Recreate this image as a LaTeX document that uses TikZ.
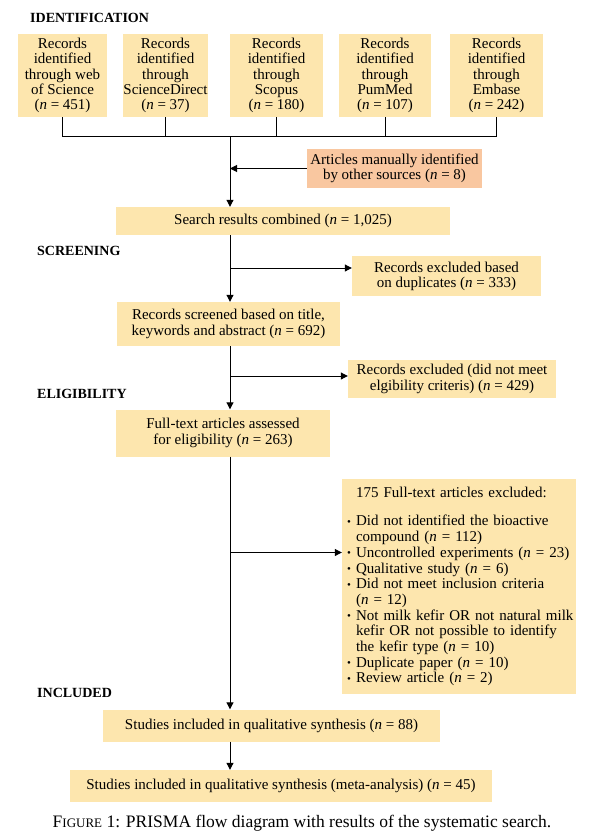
\documentclass[tikz,border=0pt]{standalone}
\usepackage{fontspec}
\setmainfont{Liberation Serif}
\usetikzlibrary{arrows.meta}
\definecolor{boxy}{HTML}{FDE6AE}
\definecolor{boxo}{HTML}{F9C7A0}
\tikzset{
  every node/.style={font=\fontsize{15}{15.2}\selectfont, inner sep=0pt},
  ybox/.style={fill=boxy, draw=none, align=center},
  obox/.style={fill=boxo, draw=none, align=center},
  lbl/.style={font=\bfseries\fontsize{14}{15}\selectfont, anchor=west},
  conn/.style={line width=1pt},
  arr/.style={line width=1pt, -{Triangle[length=7pt,width=7pt]}}
}
\newcommand{\bul}{\hspace*{5pt}\makebox[9pt][l]{\raisebox{0.5pt}{\fontsize{11}{11}\selectfont\textbullet}}}
\newcommand{\ind}{\hspace*{14pt}}
\begin{document}
\begin{tikzpicture}[x=1pt,y=-1pt]
\useasboundingbox (0,0) rectangle (600,840);
\fill[white] (0,0) rectangle (600,840);

\node[lbl] (hid) at (30,18) {IDENTIFICATION};
\node[lbl] (hsc) at (37,251) {SCREENING};
\node[lbl] (hel) at (37,394) {ELIGIBILITY};
\node[lbl] (hin) at (37,693) {INCLUDED};

\node[ybox, minimum width=89, minimum height=83] (s1) at (62.5,75.5) {Records\\identified\\through web\\of Science\\(\textit{n} = 451)};
\node[ybox, minimum width=85, minimum height=83] (s2) at (165.5,75.5) {Records\\identified\\through\\ScienceDirect\\(\textit{n} = 37)};
\node[ybox, minimum width=93, minimum height=83] (s3) at (276.5,75.5) {Records\\identified\\through\\Scopus\\(\textit{n} = 180)};
\node[ybox, minimum width=92, minimum height=83] (s4) at (385,75.5) {Records\\identified\\through\\PumMed\\(\textit{n} = 107)};
\node[ybox, minimum width=93, minimum height=83] (s5) at (496.5,75.5) {Records\\identified\\through\\Embase\\(\textit{n} = 242)};

\coordinate (bus) at (230,136);

\node[obox, minimum width=175, minimum height=39] (oth) at (394.5,168.5) {Articles manually identified\\by other sources (\textit{n} = 8)};
\node[ybox, minimum width=334, minimum height=28] (comb) at (283,221) {Search results combined (\textit{n} = 1,025)};
\node[ybox, minimum width=189, minimum height=40] (dup) at (446.5,276) {Records excluded based\\on duplicates (\textit{n} = 333)};
\node[ybox, minimum width=223, minimum height=44] (scr) at (228.5,324) {Records screened based on title,\\keywords and abstract (\textit{n} = 692)};
\node[ybox, minimum width=208, minimum height=38] (ex2) at (452,379) {Records excluded (did not meet\\elgibility criteris) (\textit{n} = 429)};
\node[ybox, minimum width=214, minimum height=47] (ft) at (223,433) {Full-text articles assessed\\for eligibility (\textit{n} = 263)};
\node[ybox, align=left, minimum width=234, minimum height=215, text width=234, font=\fontsize{15}{15.7}\selectfont] (exc) at (459,586.5) {%
\ind 175 Full-text articles excluded:\\[13pt]
\bul Did not identified the bioactive\\
\ind compound (\textit{n} = 112)\\
\bul Uncontrolled experiments (\textit{n} = 23)\\
\bul Qualitative study (\textit{n} = 6)\\
\bul Did not meet inclusion criteria\\
\ind (\textit{n} = 12)\\
\bul Not milk kefir OR not natural milk\\
\ind kefir OR not possible to identify\\
\ind the kefir type (\textit{n} = 10)\\
\bul Duplicate paper (\textit{n} = 10)\\
\bul Review article (\textit{n} = 2)};
\node[ybox, minimum width=337, minimum height=32] (in1) at (271.5,725.5) {Studies included in qualitative synthesis (\textit{n} = 88)};
\node[ybox, minimum width=422, minimum height=32] (in2) at (281,786) {Studies included in qualitative synthesis (meta-analysis) (\textit{n} = 45)};

\node[font=\fontsize{17.5}{19}\selectfont] (cap) at (302,823) {F{\fontsize{13}{14}\selectfont IGURE} 1: PRISMA flow diagram with results of the systematic search.};

% connectors
\draw[conn] (s1.south) -- (s1.south |- bus) -- (s5.south |- bus) -- (s5.south);
\draw[conn] (s2.south) -- (s2.south |- bus);
\draw[conn] (s3.south) -- (s3.south |- bus);
\draw[conn] (s4.south) -- (s4.south |- bus);
\draw[arr] (bus) -- (bus |- comb.north);
\draw[arr] (oth.west) -- (oth.west -| bus);
\draw[arr] (bus |- comb.south) -- (bus |- scr.north);
\draw[arr] ([yshift=8pt]dup.west -| bus) -- ([yshift=8pt]dup.west);
\draw[arr] (bus |- scr.south) -- (bus |- ft.north);
\draw[arr] ([yshift=3pt]ex2.west -| bus) -- ([yshift=3pt]ex2.west);
\draw[arr] (bus |- ft.south) -- (bus |- in1.north);
\draw[arr] ([yshift=34pt]exc.west -| bus) -- ([yshift=34pt]exc.west);
\draw[arr] (bus |- in1.south) -- (bus |- in2.north);
\end{tikzpicture}
\end{document}
